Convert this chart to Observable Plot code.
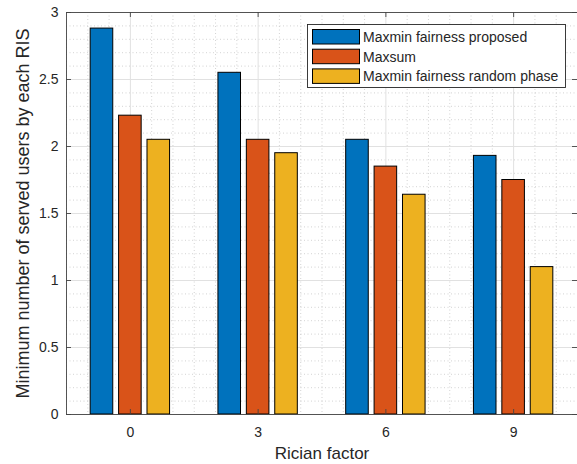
<!DOCTYPE html>
<html>
<head>
<meta charset="utf-8">
<script src="https://cdn.jsdelivr.net/npm/d3@7"></script>
<script src="https://cdn.jsdelivr.net/npm/@observablehq/plot@0.6"></script>
<style>
  html, body { margin: 0; padding: 0; background: #fff; overflow: hidden; }
  #chart { width: 577px; height: 464px; }
</style>
</head>
<body>
<div id="chart"></div>
<script>
// ---- data ----
const categories = [0, 3, 6, 9];
const seriesNames = ["Maxmin fairness proposed", "Maxsum", "Maxmin fairness random phase"];
const proposed = [2.88, 2.55, 2.05, 1.93];
const maxsum = [2.23, 2.05, 1.85, 1.75];
const randomPhase = [2.05, 1.95, 1.64, 1.10];
const seriesColors = ["#0072BD", "#D95319", "#EDB120"];
const xTicks = [0, 3, 6, 9];
const yTicks = [0, 0.5, 1, 1.5, 2, 2.5, 3];
const xLabel = "Rician factor";
const yLabel = "Minimum number of served users by each RIS";

// ---- layout ----
const W = 577, H = 464;
const mL = 66, mR = 0, mT = 12, mB = 50;
const plotW = W - mL - mR, plotH = H - mT - mB;
const groupOffsets = [-0.667, 0, 0.667];
const halfBar = 0.265;
const font = "'Liberation Sans', Arial, Helvetica, sans-serif";
const textColor = "#262626";

const seriesValues = [proposed, maxsum, randomPhase];
const table = [];
categories.forEach((c, i) => {
  seriesNames.forEach((s, j) => {
    table.push({cat: c, series: s, value: seriesValues[j][i],
      x1: c + groupOffsets[j] - halfBar, x2: c + groupOffsets[j] + halfBar});
  });
});

const xMinor = d3.range(-1.5, 10.51, 0.5).filter(v => !xTicks.some(t => Math.abs(t - v) < 1e-6));
const yMinor = d3.range(0, 3.001, 0.1).filter(v => !yTicks.some(t => Math.abs(t - v) < 1e-6));

const tick = 5;

const chart = Plot.plot({
  width: W, height: H,
  marginLeft: mL, marginRight: mR, marginTop: mT, marginBottom: mB,
  style: {fontFamily: font, color: textColor, background: "#fff", overflow: "visible"},
  x: {domain: [-1.5, 10.5], ticks: xTicks, label: null},
  y: {domain: [0, 3], ticks: yTicks, label: null},
  color: {domain: seriesNames, range: seriesColors},
  marks: [
    Plot.ruleX(xMinor, {x: d => d, stroke: "#c8c8c8", strokeWidth: 0.8, strokeDasharray: "1,2.5"}),
    Plot.ruleY(yMinor, {y: d => d, stroke: "#c8c8c8", strokeWidth: 0.8, strokeDasharray: "1,2.5"}),
    Plot.ruleX(xTicks, {x: d => d, stroke: "#e1e1e1", strokeWidth: 1}),
    Plot.ruleY(yTicks, {y: d => d, stroke: "#e1e1e1", strokeWidth: 1}),
    Plot.rectY(table, {x1: "x1", x2: "x2", y1: 0, y2: "value", fill: "series", stroke: "#000", strokeWidth: 1}),
    Plot.frame({stroke: "#444", strokeWidth: 0.9}),
    // inward ticks on all four sides
    Plot.tickY(yTicks, {y: d => d, insetRight: plotW - tick, stroke: "#444", strokeWidth: 0.9}),
    Plot.tickY(yTicks, {y: d => d, insetLeft: plotW - tick, stroke: "#444", strokeWidth: 0.9}),
    Plot.tickX(xTicks, {x: d => d, insetTop: plotH - tick, stroke: "#444", strokeWidth: 0.9}),
    Plot.tickX(xTicks, {x: d => d, insetBottom: plotH - tick, stroke: "#444", strokeWidth: 0.9}),
    Plot.axisX({ticks: xTicks, tickSize: 0, tickPadding: 13, fontSize: 14, fill: textColor, label: null, tickFormat: d => String(d)}),
    Plot.axisY({ticks: yTicks, tickSize: 0, tickPadding: 8, fontSize: 14, fill: textColor, label: null, tickFormat: d => String(d)}),
    Plot.text([xLabel], {text: d => d, frameAnchor: "bottom", dy: 39, fontSize: 17, fill: textColor, textAnchor: "middle", lineAnchor: "middle"}),
    Plot.text([yLabel], {text: d => d, frameAnchor: "left", dx: -43, rotate: -90, fontSize: 18, fill: textColor, textAnchor: "middle", lineAnchor: "middle"})
  ]
});

document.getElementById("chart").appendChild(chart);

// ---- legend (inside the axes, top right) ----
const svg = d3.select(chart);
const lg = svg.append("g").attr("font-family", font).attr("font-size", 14)
  .attr("fill", textColor).attr("text-anchor", "start");
const lx = 307, ly = 24, lw = 258, lh = 63;
lg.append("rect").attr("x", lx + 0.5).attr("y", ly + 0.5).attr("width", lw).attr("height", lh)
  .attr("fill", "#fff").attr("stroke", "#262626").attr("stroke-width", 0.9);
seriesNames.forEach((s, i) => {
  const y0 = ly + 5 + i * 19.7;
  lg.append("rect").attr("x", lx + 5.5).attr("y", y0 + 0.5).attr("width", 47).attr("height", 14.5)
    .attr("fill", seriesColors[i]).attr("stroke", "#000").attr("stroke-width", 1);
  lg.append("text").attr("x", lx + 56).attr("y", y0 + 8).attr("dy", "0.35em")
    .attr("text-anchor", "start").text(s);
});
</script>
</body>
</html>
